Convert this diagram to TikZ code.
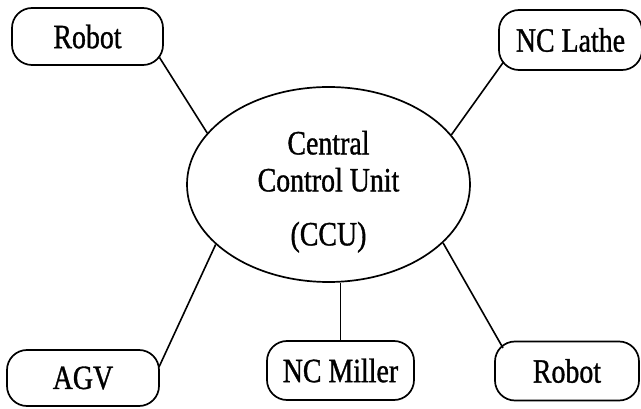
\documentclass[tikz,border=0pt]{standalone}
\usepackage{fontspec}
\setmainfont[FakeStretch=0.82,FakeBold=1]{Liberation Serif}
\usepackage{tikz}
\usetikzlibrary{calc}
\usetikzlibrary{shapes.geometric}
\usetikzlibrary{positioning}

\begin{document}
\begin{tikzpicture}[x=1pt, y=-1pt,
    station/.style={rectangle, draw=black, line width=1.7pt, rounded corners=20pt, inner sep=0pt, font=\fontsize{34}{38}\selectfont},
    link/.style={black, line width=1.6pt}]
\useasboundingbox (0,0) rectangle (641,409);

% central unit
\node at (328.5,184.5)[ellipse, draw=black, line width=1.7pt, minimum width=283pt, minimum height=195pt, inner sep=0pt, align=center, font=\fontsize{34}{37}\selectfont] (ccu) {\rule{0pt}{38pt}Central\\Control Unit\\[17pt](CCU)};

% stations
\node at (87.5,36.5)[station, minimum width=151pt, minimum height=57pt] (robottop) {Robot};
\node at (570.5,40)[station, minimum width=143pt, minimum height=60pt] (lathe) {NC Lathe};
\node at (83,378)[station, minimum width=152pt, minimum height=56pt] (agv) {AGV};
\node at (340.5,370.5)[station, minimum width=147pt, minimum height=59pt] (miller) {NC Miller};
\node at (567,371)[station, minimum width=144pt, minimum height=59pt] (robotbot) {Robot};

% links
\draw[link] ($(robottop.center)+(72,21)$) -- (ccu.157);
\draw[link] ($(lathe.center)+(-67,22)$) -- (ccu.22);
\draw[link] ($(agv.center)+(76,-11)$) -- (ccu.208);
\draw[link] (miller.north) -- (miller.north |- ccu.south);
\draw[link] ($(robotbot.center)+(-64,-23)$) -- (ccu.333);
\end{tikzpicture}
\end{document}
